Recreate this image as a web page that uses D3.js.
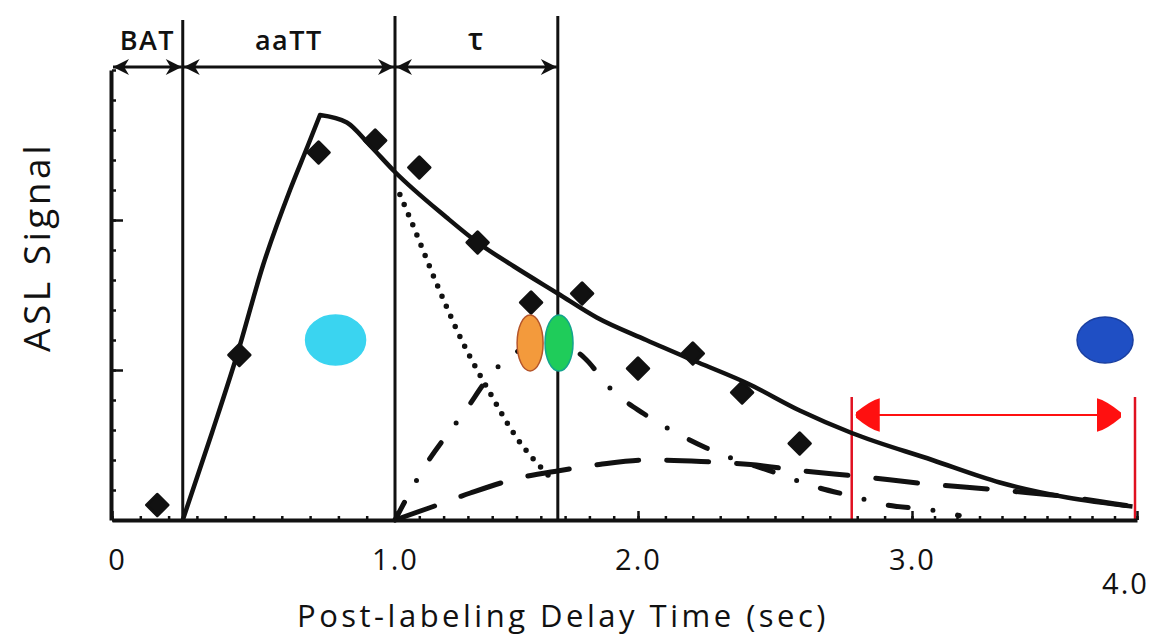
<!DOCTYPE html>
<html>
<head>
<meta charset="utf-8">
<script src="https://cdn.jsdelivr.net/npm/d3@7"></script>
<style>
  body { margin: 0; background: #fff; }
  text { font-family: "Open Sans", "DejaVu Sans", sans-serif; fill: #111; }
</style>
</head>
<body>
<script>
// x ticks (seconds) and their labels
var xTicks = [0, 1, 2, 3, 4];
var xTickLabels = ["0", "1.0", "2.0", "3.0", "4.0"];

// measured points (diamonds)
var obsTime   = [0.16, 0.45, 0.73, 0.93, 1.10, 1.34, 1.56, 1.77, 2.00, 2.20, 2.38, 2.59];
var obsSignal = [0.10, 1.10, 2.45, 2.53, 2.35, 1.85, 1.45, 1.51, 1.01, 1.11, 0.85, 0.51];

// total ASL signal (solid): rise up to the peak, then decay
var riseTime    = [0.25, 0.353, 0.445, 0.534, 0.629, 0.693, 0.735];
var riseSignal  = [0.00, 0.58, 1.12, 1.70, 2.20, 2.50, 2.70];
var decayTime   = [0.735, 0.83, 0.91, 1.00, 1.21, 1.34, 1.49, 1.67, 1.83, 2.03, 2.22, 2.40, 2.59, 2.78, 3.09, 3.39, 3.69, 3.98];
var decaySignal = [2.70, 2.65, 2.50, 2.32, 2.02, 1.85, 1.69, 1.51, 1.35, 1.20, 1.05, 0.91, 0.73, 0.58, 0.40, 0.25, 0.15, 0.09];

// intravascular component (dotted)
var vascTime   = [1.02, 1.07, 1.165, 1.28, 1.39, 1.50, 1.63];
var vascSignal = [2.17, 1.98, 1.60, 1.18, 0.85, 0.55, 0.30];

// dash-dot component
var dotDashTime   = [1.00, 1.12, 1.29, 1.40, 1.51, 1.63, 1.78, 1.89, 2.02, 2.13, 2.25, 2.51, 2.65, 2.78, 2.91, 3.07, 3.21];
var dotDashSignal = [0.00, 0.35, 0.73, 0.98, 1.13, 1.21, 1.08, 0.87, 0.71, 0.59, 0.48, 0.31, 0.22, 0.16, 0.10, 0.07, 0.03];

// long-dash component
var longDashTime   = [1.00, 1.14, 1.31, 1.51, 1.68, 1.84, 2.03, 2.23, 2.41, 2.59, 2.81, 3.07, 3.39, 3.66, 3.98];
var longDashSignal = [0.00, 0.08, 0.18, 0.28, 0.33, 0.37, 0.40, 0.39, 0.37, 0.33, 0.29, 0.24, 0.20, 0.16, 0.09];

// timing intervals on top
var intervalLabels = ["BAT", "aaTT", "\u03c4"];
var intervalStart  = [0, 0.25, 1.00];
var intervalEnd    = [0.25, 1.00, 1.67];

// red range
var redRange = [2.78, 4.0];
var redLevel = 0.70;

// colored markers
var blobTime   = [0.79, 1.556, 1.675, 3.858];
var blobSignal = [1.20, 1.18, 1.18, 1.20];
var blobFill   = ["#3ad4f0", "#f39a3c", "#1fcc5a", "#1f4fc4"];
var blobEdge   = ["#3ad4f0", "#b5552a", "#12a48c", "#1a3fa0"];

var W = 1151, H = 637;
var svg = d3.select("body").append("svg").attr("width", W).attr("height", H);

var x = d3.scaleLinear().domain(xTicks).range([112, 395, 638, 912, 1137]);
var y = d3.scaleLinear().domain([0, 3]).range([520, 70]);

var ink = "#111";

// markers
var defs = svg.append("defs");
defs.append("marker").attr("id", "arr")
    .attr("viewBox", "0 0 10 10").attr("refX", 10).attr("refY", 5)
    .attr("markerWidth", 20).attr("markerHeight", 16)
    .attr("markerUnits", "userSpaceOnUse").attr("orient", "auto-start-reverse")
  .append("path").attr("d", "M0,0 L10,5 L0,10 L3,5 Z").attr("fill", ink);
defs.append("marker").attr("id", "redarr")
    .attr("viewBox", "0 0 10 14").attr("refX", 10).attr("refY", 7)
    .attr("markerWidth", 24).attr("markerHeight", 36)
    .attr("markerUnits", "userSpaceOnUse").attr("orient", "auto-start-reverse")
  .append("path").attr("d", "M0,0 Q4,1 10,6 Q10.5,7 10,8 Q4,13 0,14 Z").attr("fill", "#ff1010");

// vertical interval lines
svg.selectAll("line.vline")
  .data(intervalEnd)
  .enter().append("line")
    .attr("class", "vline")
    .attr("x1", function(d){ return x(d); }).attr("x2", function(d){ return x(d); })
    .attr("y1", y(0)).attr("y2", function(d, i){ return i == 0 ? 20 : 16; })
    .attr("stroke", ink).attr("stroke-width", 3);

// interval arrows + labels
var arrowY = y(3) - 3;
intervalLabels.forEach(function(lab, i){
  svg.append("line")
    .attr("x1", x(intervalStart[i]) + 1).attr("x2", x(intervalEnd[i]) - 1)
    .attr("y1", arrowY).attr("y2", arrowY)
    .attr("stroke", ink).attr("stroke-width", 3)
    .attr("marker-start", "url(#arr)").attr("marker-end", "url(#arr)");
  svg.append("text")
    .attr("x", (x(intervalStart[i]) + x(intervalEnd[i])) / 2)
    .attr("y", 50)
    .attr("text-anchor", "middle")
    .attr("font-size", i == 2 ? 30 : 27)
    .attr("font-weight", 600)
    .attr("letter-spacing", 1.5)
    .text(lab);
});

// red range
redRange.forEach(function(d, i){
  svg.append("line")
    .attr("x1", x(d) - (i ? 2 : 0)).attr("x2", x(d) - (i ? 2 : 0))
    .attr("y1", y(0)).attr("y2", y(0.82))
    .attr("stroke", "#e01020").attr("stroke-width", 2.5);
});
svg.append("line")
  .attr("x1", x(redRange[0]) + 4).attr("x2", x(redRange[1]) - 16)
  .attr("y1", y(redLevel)).attr("y2", y(redLevel))
  .attr("stroke", "#ff1010").attr("stroke-width", 2)
  .attr("marker-start", "url(#redarr)").attr("marker-end", "url(#redarr)");

// curves
function curve(ts, vs){
  return d3.line()
    .x(function(d){ return x(ts[d]); })
    .y(function(d){ return y(vs[d]); })
    .curve(d3.curveMonotoneX)(d3.range(ts.length));
}

svg.append("path").attr("d", curve(vascTime, vascSignal))
  .attr("fill", "none").attr("stroke", ink).attr("stroke-width", 5.5)
  .attr("stroke-linecap", "round").attr("stroke-dasharray", "0 11");

svg.append("path").attr("d", curve(dotDashTime, dotDashSignal))
  .attr("fill", "none").attr("stroke", ink).attr("stroke-width", 5)
  .attr("stroke-linecap", "round").attr("stroke-dasharray", "20 25 0 25");

svg.append("path").attr("d", curve(longDashTime, longDashSignal))
  .attr("fill", "none").attr("stroke", ink).attr("stroke-width", 5)
  .attr("stroke-linecap", "round").attr("stroke-dasharray", "42 28");

// solid total curve, as two pieces so the peak stays a sharp corner
svg.append("path").attr("d", curve(riseTime, riseSignal) + curve(decayTime, decaySignal).replace(/^M/, "L"))
  .attr("fill", "none").attr("stroke", ink).attr("stroke-width", 4.5)
  .attr("stroke-linejoin", "round");

// axes
var xMinor = d3.range(0, 41).map(function(d){ return d / 10; });
svg.append("g").attr("transform", "translate(0," + y(0) + ")")
  .call(d3.axisBottom(x).tickValues(xMinor).tickSize(-4).tickSizeOuter(0).tickFormat(""))
  .call(function(g){ g.select(".domain").remove(); g.selectAll("line").attr("stroke", ink).attr("stroke-width", 2.5); });

var xAxis = svg.append("g").attr("transform", "translate(0," + y(0) + ")")
  .call(d3.axisBottom(x).tickValues(xTicks).tickSize(-9).tickSizeOuter(0).tickPadding(29)
    .tickFormat(function(d, i){ return xTickLabels[i]; }));
xAxis.select(".domain").attr("stroke", ink).attr("stroke-width", 4);
xAxis.selectAll(".tick line").attr("stroke", ink).attr("stroke-width", 2.5);
xAxis.selectAll(".tick text")
  .attr("font-size", 29).attr("letter-spacing", 2).attr("fill", ink)
  .attr("font-family", "'Open Sans', sans-serif")
  .attr("dx", function(d){ return d == 0 ? 5 : (d == 4 ? -12 : 0); })
  .attr("y", function(d){ return d == 4 ? 53 : 29; });

var yMinor = d3.range(0, 16).map(function(d){ return d / 5; });
svg.append("g").attr("transform", "translate(" + x(0) + ",0)")
  .call(d3.axisLeft(y).tickValues(yMinor).tickSize(-4).tickSizeOuter(0).tickFormat(""))
  .call(function(g){ g.select(".domain").remove(); g.selectAll("line").attr("stroke", ink).attr("stroke-width", 2.5); });

var yAxis = svg.append("g").attr("transform", "translate(" + (x(0) - 1) + ",0)")
  .call(d3.axisLeft(y).tickValues([1, 2]).tickSize(-12).tickSizeOuter(0).tickFormat(""));
yAxis.select(".domain").attr("stroke", ink).attr("stroke-width", 4);
yAxis.selectAll(".tick line").attr("stroke", ink).attr("stroke-width", 2.5);

// measured diamonds
svg.selectAll("path.obs")
  .data(obsTime)
  .enter().append("path")
    .attr("class", "obs")
    .attr("d", d3.symbol().type(d3.symbolSquare).size(230))
    .attr("transform", function(d, i){ return "translate(" + x(d) + "," + y(obsSignal[i]) + ") rotate(45)"; })
    .attr("fill", ink).attr("stroke", ink).attr("stroke-width", 3).attr("stroke-linejoin", "round");

// colored markers
var blobRx = [30, 13, 14, 28], blobRy = [25, 28, 28, 23];
svg.selectAll("ellipse.blob")
  .data(blobTime)
  .enter().append("ellipse")
    .attr("class", "blob")
    .attr("cx", function(d){ return x(d); })
    .attr("cy", function(d, i){ return y(blobSignal[i]); })
    .attr("rx", function(d, i){ return blobRx[i]; })
    .attr("ry", function(d, i){ return blobRy[i]; })
    .attr("fill", function(d, i){ return blobFill[i]; })
    .attr("stroke", function(d, i){ return blobEdge[i]; })
    .attr("stroke-width", 1.5);

// axis titles
svg.append("text")
  .attr("x", 563).attr("y", 627)
  .attr("text-anchor", "middle")
  .attr("font-size", 31).attr("letter-spacing", 3.5)
  .text("Post-labeling Delay Time (sec)");

svg.append("text")
  .attr("transform", "translate(50,247) rotate(-90)")
  .attr("text-anchor", "middle")
  .attr("font-size", 37).attr("letter-spacing", 3.5)
  .text("ASL  Signal");
</script>
</body>
</html>
